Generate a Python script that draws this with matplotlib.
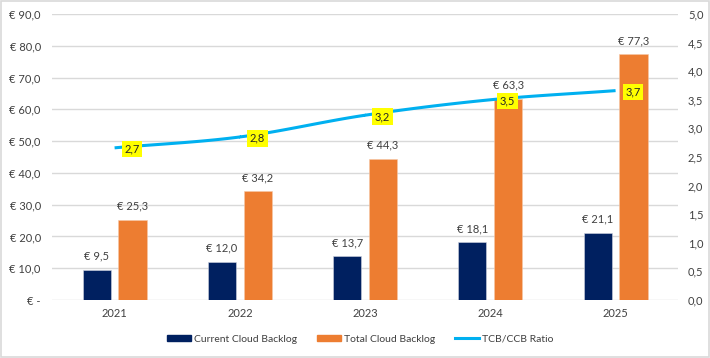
import matplotlib.pyplot as plt
import numpy as np
from matplotlib.patches import Rectangle
from matplotlib.lines import Line2D

# data
years = ["2021", "2022", "2023", "2024", "2025"]
current_backlog = [9.5, 12.0, 13.7, 18.1, 21.1]
total_backlog = [25.3, 34.2, 44.3, 63.3, 77.3]
ratio = [2.66, 2.85, 3.23, 3.50, 3.66]
ratio_labels = ["2,7", "2,8", "3,2", "3,5", "3,7"]

navy = "#002060"
orange = "#ED7D31"
blue = "#00B0F0"
txt = "#404040"

plt.rcParams['font.family'] = ['Lato', 'DejaVu Sans']
plt.rcParams['font.size'] = 8

fig = plt.figure(figsize=(7.1, 3.58), dpi=100)
fig.patches.append(Rectangle((0.0015, 0.003), 0.997, 0.994, transform=fig.transFigure,
                             fill=False, edgecolor="#d9d9d9", linewidth=1.2))
ax = fig.add_axes([0.0732, 0.162, 0.882, 0.799])
ax2 = ax.twinx()

x = np.arange(len(years))
w = 0.224
off = 0.143

b1 = ax.bar(x - off, current_backlog, w, color=navy, edgecolor="#d0d4e0", linewidth=0.4, zorder=2)
b2 = ax.bar(x + off, total_backlog, w, color=orange, edgecolor="#f5c8a8", linewidth=0.4, zorder=2)

def eur(v):
    return "€ " + f"{v:.1f}".replace(".", ",")

for rect, v in zip(list(b1) + list(b2), current_backlog + total_backlog):
    ax.annotate(eur(v), (rect.get_x() + rect.get_width() / 2, v), xytext=(0, 6),
                textcoords="offset points", ha="center", va="bottom", color=txt, fontsize=8)

# smooth line like Excel's smoothed series (Catmull-Rom through the points)
def smooth(xs, ys, n=30):
    xs = np.asarray(xs, float)
    ys = np.asarray(ys, float)
    px = np.concatenate([[2 * xs[0] - xs[1]], xs, [2 * xs[-1] - xs[-2]]])
    py = np.concatenate([[2 * ys[0] - ys[1]], ys, [2 * ys[-1] - ys[-2]]])
    ox, oy = [], []
    for i in range(1, len(px) - 2):
        t = np.linspace(0, 1, n)
        for arr, out in ((px, ox), (py, oy)):
            p0, p1, p2, p3 = arr[i - 1], arr[i], arr[i + 1], arr[i + 2]
            out.extend(0.5 * (2 * p1 + (-p0 + p2) * t + (2 * p0 - 5 * p1 + 4 * p2 - p3) * t ** 2
                              + (-p0 + 3 * p1 - 3 * p2 + p3) * t ** 3))
    return ox, oy

sx, sy = smooth(x, ratio)
ax2.plot(sx, sy, color=blue, linewidth=2.2, solid_capstyle="butt", zorder=3)
for xi, r, lab in zip(x, ratio, ratio_labels):
    ax2.annotate(lab, (xi, r), xytext=(7, -1), textcoords="offset points", ha="left", va="center",
                 fontsize=8, color="#262626",
                 bbox=dict(boxstyle="square,pad=0.25", facecolor="#FFFF00", edgecolor="none"))

ax.set_xlim(-0.5, 4.5)
ax.set_ylim(0, 90)
ax2.set_ylim(0, 5)
ax.set_yticks(np.arange(0, 91, 10))
ax.set_yticklabels(["€ -"] + [eur(v) for v in range(10, 91, 10)])
ax2.set_yticks(np.arange(0, 5.01, 0.5))
ax2.set_yticklabels([f"{v:.1f}".replace(".", ",") for v in np.arange(0, 5.01, 0.5)])
ax.set_xticks(x)
ax.set_xticklabels(years)

for a in (ax, ax2):
    for s in a.spines.values():
        s.set_visible(False)
    a.tick_params(length=0, colors=txt, labelsize=8)
ax.tick_params(axis="y", pad=8)
ax2.tick_params(axis="y", pad=7)
ax.tick_params(axis="x", pad=6)
ax.grid(axis="y", color="#d9d9d9", linewidth=1)
ax.set_axisbelow(True)
ax.set_zorder(ax2.get_zorder() - 1)
ax.patch.set_visible(False)
ax2.patch.set_visible(False)

handles = [Rectangle((0, 0), 1, 1, color=navy), Rectangle((0, 0), 1, 1, color=orange),
           Line2D([0], [0], color=blue, linewidth=2.2)]
fig.legend(handles, ["Current Cloud Backlog", "Total Cloud Backlog", "TCB/CCB Ratio"],
           loc="center", bbox_to_anchor=(0.507, 0.053), ncol=3, frameon=False, fontsize=7.5,
           handlelength=2.3, handleheight=0.45, columnspacing=1.9, handletextpad=0.3,
           labelcolor=txt)

fig.savefig("out.png", dpi=100)
